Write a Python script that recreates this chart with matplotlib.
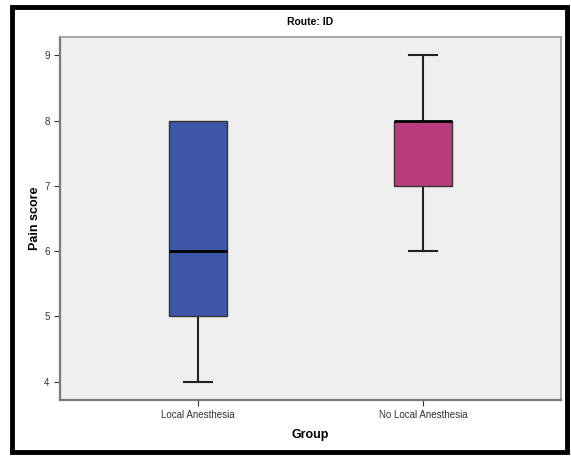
import matplotlib.pyplot as plt
from matplotlib.patches import Rectangle

plt.rcParams["font.family"] = ["Liberation Sans", "DejaVu Sans"]

# %% Data
groups = ["Local Anesthesia", "No Local Anesthesia"]
whislo = [4, 6]
q1 = [5, 7]
med = [6, 8]
q3 = [8, 8]
whishi = [8, 9]
box_colors = ["#3d56a8", "#b93c7d"]

stats = [
    {"label": g, "whislo": lo, "q1": a, "med": m, "q3": b, "whishi": hi, "fliers": []}
    for g, lo, a, m, b, hi in zip(groups, whislo, q1, med, q3, whishi)
]

# %% Plot
fig = plt.figure(figsize=(5.71, 4.57), dpi=100)
ax = fig.add_axes([0.105, 0.125, 0.8775, 0.794])
ax.set_facecolor("#efefef")

bp = ax.bxp(
    stats,
    positions=[1, 2],
    widths=0.255,
    patch_artist=True,
    boxprops=dict(edgecolor="#333333", linewidth=1.0, zorder=3),
    medianprops=dict(color="black", linewidth=2.0, zorder=4),
    whiskerprops=dict(color="#222222", linewidth=1.5, zorder=2),
    capprops=dict(color="#222222", linewidth=1.5, zorder=2),
    capwidths=0.125,
)
for patch, c in zip(bp["boxes"], box_colors):
    patch.set_facecolor(c)
# a cap sitting on the box edge is not drawn when whisker length is zero
for i, (b, hi) in enumerate(zip(q3, whishi)):
    if b == hi:
        bp["caps"][2 * i + 1].set_visible(False)

ax.set_xlim(0.387, 2.613)
ax.set_ylim(3.72, 9.28)
ax.set_yticks([4, 5, 6, 7, 8, 9])

for side in ["left", "bottom"]:
    ax.spines[side].set_color("#7a7a7a")
    ax.spines[side].set_linewidth(1.6)
for side in ["top", "right"]:
    ax.spines[side].set_color("#9a9a9a")
    ax.spines[side].set_linewidth(1.2)

ax.tick_params(axis="both", labelsize=7, colors="#333333", length=4, width=0.8)
ax.set_xticklabels(groups)
ax.set_ylabel("Pain score", fontsize=9, fontweight="bold", labelpad=2)
ax.set_xlabel("Group", fontsize=9, fontweight="bold", labelpad=6)
ax.set_title("Route: ID", fontsize=7.5, fontweight="bold", pad=9)

# black frame around whole figure
fig.patches.append(
    Rectangle((0.021, 0.011), 0.972, 0.974, transform=fig.transFigure,
              fill=False, edgecolor="black", linewidth=3.5)
)

fig.savefig("out.png", dpi=100)
